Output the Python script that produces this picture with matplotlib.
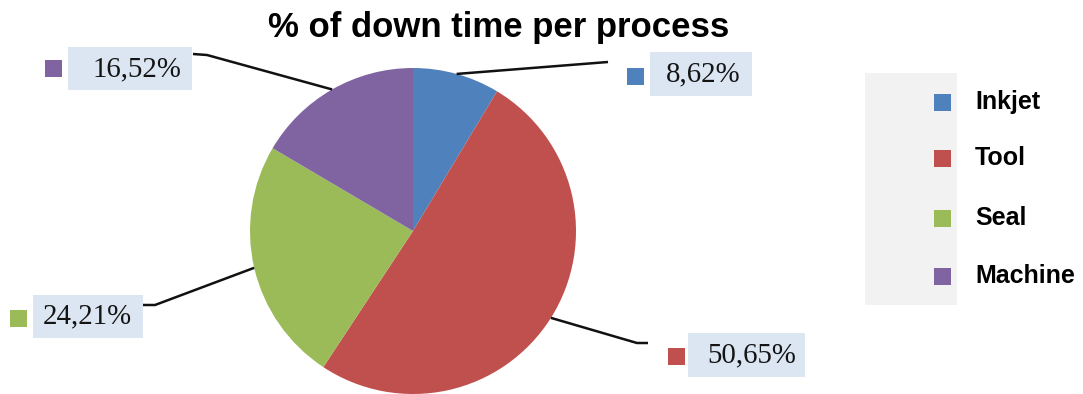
import numpy as np
import matplotlib
matplotlib.use("Agg")
import matplotlib.pyplot as plt
from matplotlib.patches import Rectangle

# Share of down time per process
categories = ["Inkjet", "Tool", "Seal", "Machine"]
shares = [8.62, 50.65, 24.21, 16.52]
colors = ["#4F81BD", "#C0504D", "#9BBB59", "#8064A2"]
title = "% of down time per process"

W, H = 1083, 394
fig = plt.figure(figsize=(W / 100, H / 100), dpi=100)
fig.patch.set_facecolor("white")

# Pie axes: centre (413, 231) px, radius 163 px
cx, cy, r = 413, 231, 163
pie_ax = fig.add_axes([(cx - r) / W, (H - cy - r) / H, 2 * r / W, 2 * r / H])
wedges, _ = pie_ax.pie(shares, colors=colors, startangle=90, counterclock=False,
                       radius=1.0, wedgeprops=dict(linewidth=0))
pie_ax.set_xlim(-1, 1)
pie_ax.set_ylim(-1, 1)
pie_ax.set_axis_off()

# Overlay in pixel coordinates for labels, leaders and legend
ov = fig.add_axes([0, 0, 1, 1], zorder=5)
ov.set_xlim(0, W)
ov.set_ylim(H, 0)
ov.set_axis_off()
ov.patch.set_alpha(0)

def edge_point(wedge):
    ang = np.deg2rad((wedge.theta1 + wedge.theta2) / 2)
    disp = pie_ax.transData.transform((np.cos(ang), np.sin(ang)))
    return ov.transData.inverted().transform(disp)

# Label layout: box (x0, y0, x1, y1), text centre, marker square (x, y), leader bend points
layout = {
    "Inkjet":  dict(box=(650, 52, 752, 96),  txt=(703, 74),  sq=(627, 68),
                    leader=[(608, 62)]),
    "Tool":    dict(box=(688, 333, 805, 377), txt=(752, 355), sq=(668, 348),
                    leader=[(637, 343), (648, 343)]),
    "Seal":    dict(box=(33, 295, 143, 338),  txt=(87, 316),  sq=(10, 310),
                    leader=[(155, 305), (143, 305)]),
    "Machine": dict(box=(68, 47, 192, 90),    txt=(137, 69),  sq=(45, 60),
                    leader=[(207, 55), (193, 54)]),
}

label_font = dict(family=["Liberation Serif", "DejaVu Serif"], size=20.8, color="#141414")
sq = 17

for wedge, name, val, col in zip(wedges, categories, shares, colors):
    L = layout[name]
    x0, y0, x1, y1 = L["box"]
    ov.add_patch(Rectangle((x0, y0), x1 - x0, y1 - y0, facecolor="#DCE6F2",
                           edgecolor="none", zorder=2))
    ov.add_patch(Rectangle(L["sq"], sq, sq, facecolor=col, edgecolor="none", zorder=2))
    ov.text(*L["txt"], f"{val:.2f}".replace(".", ",") + "%", ha="center",
            va="center", zorder=3, **label_font)
    p = edge_point(wedge)
    pts = np.array([p] + L["leader"])
    ov.plot(pts[:, 0], pts[:, 1], color="#111111", lw=1.8, solid_capstyle="butt",
            solid_joinstyle="miter", zorder=4)

# Title
ov.text(499, 27, title, ha="center", va="center", fontsize=25, fontweight="bold",
        family=["Liberation Sans", "DejaVu Sans"], color="black")

# Legend
ov.add_patch(Rectangle((865, 73), 92, 232, facecolor="#F2F2F2", edgecolor="none", zorder=1))
legend_y = [102, 158, 218, 276]
for name, col, y in zip(categories, colors, legend_y):
    ov.add_patch(Rectangle((934, y - 8.5), sq, sq, facecolor=col, edgecolor="none", zorder=2))
    ov.text(975, y, name, ha="left", va="center", fontsize=18, fontweight="bold",
            family=["Liberation Sans", "DejaVu Sans"], color="black", zorder=3)

fig.savefig("out.png", dpi=100)
